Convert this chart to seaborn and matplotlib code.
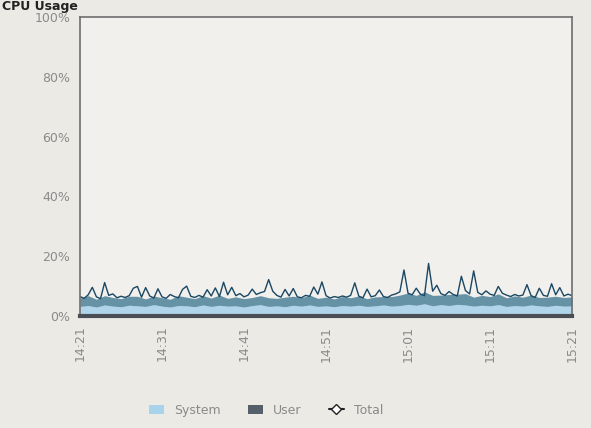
import numpy as np
import pandas as pd
import matplotlib
matplotlib.use("Agg")
import matplotlib.pyplot as plt
from matplotlib.lines import Line2D
from matplotlib.patches import Patch
import seaborn as sns

# ---- data (minutes after 14:21) ----
tick_labels = ["14:21", "14:31", "14:41", "14:51", "15:01", "15:11", "15:21"]
tick_minutes = [0, 10, 20, 30, 40, 50, 60]

# per-minute stacked components (%)
system_minutes = list(range(61))
system_pct = [3.2, 3.5, 3.0, 3.7, 3.3, 3.1, 3.6, 3.4, 3.2, 3.8, 3.3, 3.0, 3.5, 3.4, 3.1, 3.7,
              3.2, 3.6, 3.3, 3.4, 3.0, 3.5, 3.8, 3.2, 3.4, 3.1, 3.6, 3.3, 3.7, 3.2, 3.4, 3.1,
              3.5, 3.3, 3.6, 3.2, 3.4, 3.7, 3.3, 3.5, 3.9, 3.6, 4.1, 3.4, 3.8, 3.5, 3.9, 3.7,
              3.3, 3.6, 3.4, 3.8, 3.2, 3.5, 3.3, 3.7, 3.4, 3.2, 3.6, 3.3, 3.4]
user_pct = [2.8, 3.3, 2.6, 3.1, 2.9, 2.7, 3.0, 3.2, 2.5, 2.9, 2.8, 2.6, 3.3, 2.9, 2.7, 3.1,
            2.8, 3.4, 2.6, 3.0, 2.8, 2.7, 3.0, 2.9, 2.5, 3.2, 3.0, 2.8, 3.3, 2.7, 2.9, 2.6,
            3.0, 2.8, 3.1, 2.6, 3.0, 2.8, 3.2, 3.5, 3.8, 3.3, 4.0, 3.5, 3.2, 3.7, 3.4, 3.8,
            3.0, 3.3, 3.1, 3.6, 2.9, 3.2, 3.0, 3.3, 2.8, 3.1, 3.0, 2.9, 3.0]

# total, every 30 s (%)
total_minutes = [i * 0.5 for i in range(121)]
total_pct = [6.5, 5.9, 7.1, 9.6, 6.4, 5.8, 11.2, 6.9, 7.4, 6.1, 6.6, 6.2, 6.8, 9.3, 9.9, 6.3,
             9.5, 6.7, 6.0, 9.1, 6.4, 5.9, 7.2, 6.5, 6.1, 8.9, 10.0, 6.6, 6.2, 6.9, 6.3, 8.8,
             6.7, 9.4, 6.5, 11.3, 7.1, 9.6, 6.8, 7.5, 6.4, 7.0, 9.0, 7.2, 7.8, 8.2, 12.2, 8.3,
             6.9, 6.3, 8.9, 6.7, 9.2, 6.4, 6.1, 6.9, 6.6, 9.7, 7.3, 11.4, 6.8, 6.0, 6.5, 6.2,
             6.7, 6.3, 6.9, 11.1, 6.6, 6.1, 9.0, 6.4, 6.8, 8.7, 6.5, 6.2, 7.0, 7.4, 8.1, 15.4,
             7.6, 7.1, 9.3, 7.3, 6.8, 17.6, 8.3, 10.3, 7.5, 6.9, 8.2, 7.2, 6.7, 13.3, 8.5, 7.4,
             15.1, 7.9, 7.1, 8.4, 7.3, 6.9, 9.9, 7.6, 7.0, 6.5, 7.2, 6.7, 7.0, 10.5, 6.8, 6.2,
             9.3, 6.9, 6.6, 10.8, 7.1, 9.5, 6.7, 7.3, 6.8]

y_ticks = [0, 20, 40, 60, 80, 100]
y_labels = ["0%", "20%", "40%", "60%", "80%", "100%"]

# ---- style ----
sns.set_style("white")
bg = "#ebeae5"
plt.rcParams["font.family"] = ["DejaVu Sans"]

fig = plt.figure(figsize=(5.91, 4.28), dpi=100, facecolor=bg)
ax = fig.add_axes([0.1354, 0.2617, 0.8326, 0.698])
ax.set_facecolor("#f1f0ec")

sys_color = "#a9d3ea"
user_color = "#2a6a88"
total_color = "#1b4763"

comp = pd.DataFrame({"minute": system_minutes, "system": system_pct, "user": user_pct})
comp["stack"] = comp["system"] + comp["user"]
ax.fill_between(comp["minute"], 0, comp["system"], color=sys_color, alpha=0.9, lw=0)
ax.fill_between(comp["minute"], comp["system"], comp["stack"], color=user_color, alpha=0.7, lw=0)

tot = pd.DataFrame({"minute": total_minutes, "total": total_pct})
sns.lineplot(data=tot, x="minute", y="total", ax=ax, color=total_color, lw=1.0)

ax.set_xlim(0, 60)
ax.set_ylim(0, 100)
ax.set_xticks(tick_minutes)
ax.set_xticklabels(tick_labels, rotation=90, color="#8a8a8a", fontsize=9)
ax.set_yticks(y_ticks)
ax.set_yticklabels(y_labels, color="#8a8a8a", fontsize=9)
ax.tick_params(axis="both", length=3, color="#9a9a9a", pad=4)
ax.set_xlabel("")
ax.set_ylabel("")
for s in ax.spines.values():
    s.set_color("#6e6e6e")
    s.set_linewidth(1.2)
ax.spines["bottom"].set_linewidth(3)
ax.spines["bottom"].set_color("#4a4f55")

handles = [Patch(facecolor=sys_color, edgecolor="none"),
           Patch(facecolor="#55606a", edgecolor="none"),
           Line2D([0], [0], color="#222222", lw=1.5, marker="D", markersize=5,
                  markerfacecolor="white", markeredgecolor="#222222")]
fig.legend(handles, ["System", "User", "Total"], loc="center", ncol=3,
           bbox_to_anchor=(0.45, 0.042), frameon=False, fontsize=9,
           labelcolor="#8a8a8a", handlelength=1.2, columnspacing=2.2, handletextpad=0.8)

fig.text(0.004, 0.999, "CPU Usage", fontsize=9, fontweight="bold", color="#222222",
         ha="left", va="top")

fig.savefig("out.png", dpi=100, facecolor=bg)
